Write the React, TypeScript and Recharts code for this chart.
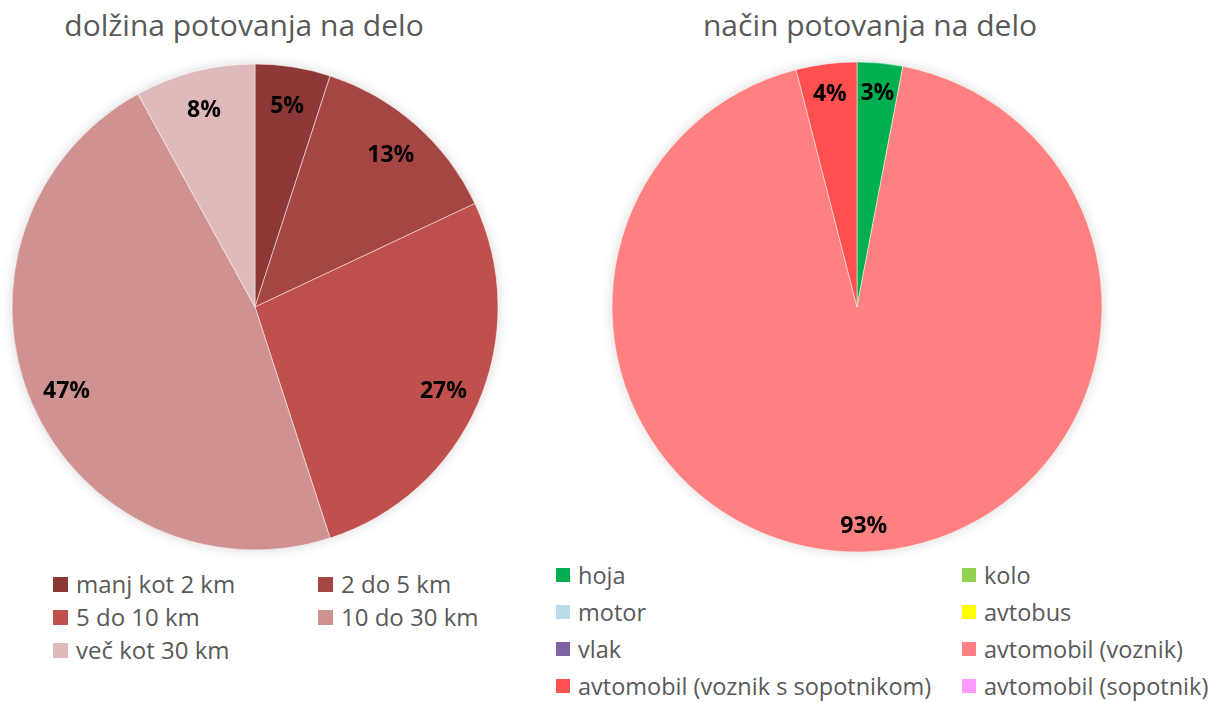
import { PieChart, Pie, Cell } from 'recharts';

const lengthNames = ['manj kot 2 km', '2 do 5 km', '5 do 10 km', '10 do 30 km', 'več kot 30 km'];
const lengthValues = [5, 13, 27, 47, 8];
const lengthColors = ['#8C3836', '#A64644', '#C0504D', '#D09290', '#E0BABA'];

const modeNames = [
  'hoja',
  'kolo',
  'motor',
  'avtobus',
  'vlak',
  'avtomobil (voznik)',
  'avtomobil (voznik s sopotnikom)',
  'avtomobil (sopotnik)',
];
const modeValues = [3, 0, 0, 0, 0, 93, 4, 0];
const modeColors = ['#00B050', '#92D050', '#B7DEE8', '#FFFF00', '#8064A2', '#FF8080', '#FF5050', '#FF99FF'];

const lengthData = lengthNames.map((name, i) => ({ name, value: lengthValues[i] }));
const modeData = modeNames.map((name, i) => ({ name, value: modeValues[i] }));

const FONT = '"Open Sans", Lato, sans-serif';
const RAD = Math.PI / 180;

function makeLabel(factor: number) {
  return (props: any) => {
    const { cx, cy, midAngle, outerRadius, value } = props;
    if (!value) return null;
    const r = outerRadius * factor;
    const x = cx + r * Math.cos(-midAngle * RAD);
    const y = cy + r * Math.sin(-midAngle * RAD);
    return (
      <text x={x} y={y} fill="#000" fontSize={23} fontWeight={700} fontFamily={FONT}
        textAnchor="middle" dominantBaseline="central">
        {value}%
      </text>
    );
  };
}

function Legend({ names, colors, left, top, colGap, rowGap, box, size }: any) {
  return (
    <div style={{ position: 'absolute', left, top, fontFamily: FONT, fontSize: size, color: '#595959' }}>
      {names.map((n: string, i: number) => (
        <div key={n} style={{
          position: 'absolute',
          left: (i % 2) * colGap,
          top: Math.floor(i / 2) * rowGap,
          height: 24,
          lineHeight: '24px',
          whiteSpace: 'nowrap',
          display: 'flex',
          alignItems: 'center',
        }}>
          <span style={{ display: 'inline-block', width: box, height: box, background: colors[i], marginRight: 8 }} />
          <span>{n}</span>
        </div>
      ))}
    </div>
  );
}

export default function App() {
  return (
    <div style={{ position: 'absolute', left: 0, top: 0, width: 1230, height: 702, background: '#fff', overflow: 'hidden' }}>
      <div style={{ position: 'absolute', left: 0, width: 488, top: 4, textAlign: 'center', fontFamily: FONT, fontSize: 30, color: '#595959' }}>
        dolžina potovanja na delo
      </div>
      <div style={{ position: 'absolute', left: 620, width: 500, top: 4, textAlign: 'center', fontFamily: FONT, fontSize: 30, color: '#595959' }}>
        način potovanja na delo
      </div>
      <div style={{ position: 'absolute', left: 0, top: 0, filter: 'drop-shadow(0 0 6px rgba(0,0,0,0.15))' }}>
        <PieChart width={1230} height={560}>
          <Pie data={lengthData} dataKey="value" nameKey="name" cx={250} cy={302} outerRadius={243}
            startAngle={90} endAngle={-270} stroke="#fff" strokeWidth={0.5}
            label={makeLabel(0.845)} labelLine={false} isAnimationActive={false}>
            {lengthData.map((d, i) => <Cell key={d.name} fill={lengthColors[i]} />)}
          </Pie>
          <Pie data={modeData} dataKey="value" nameKey="name" cx={852} cy={302} outerRadius={245}
            startAngle={90} endAngle={-270} stroke="#fff" strokeWidth={0.5}
            label={makeLabel(0.885)} labelLine={false} isAnimationActive={false}>
            {modeData.map((d, i) => <Cell key={d.name} fill={modeColors[i]} />)}
          </Pie>
        </PieChart>
      </div>
      <Legend names={lengthNames} colors={lengthColors} left={53} top={572} colGap={265} rowGap={33} box={15} size={24} />
      <Legend names={modeNames} colors={modeColors} left={556} top={563} colGap={406} rowGap={37} box={14} size={23.5} />
    </div>
  );
}
